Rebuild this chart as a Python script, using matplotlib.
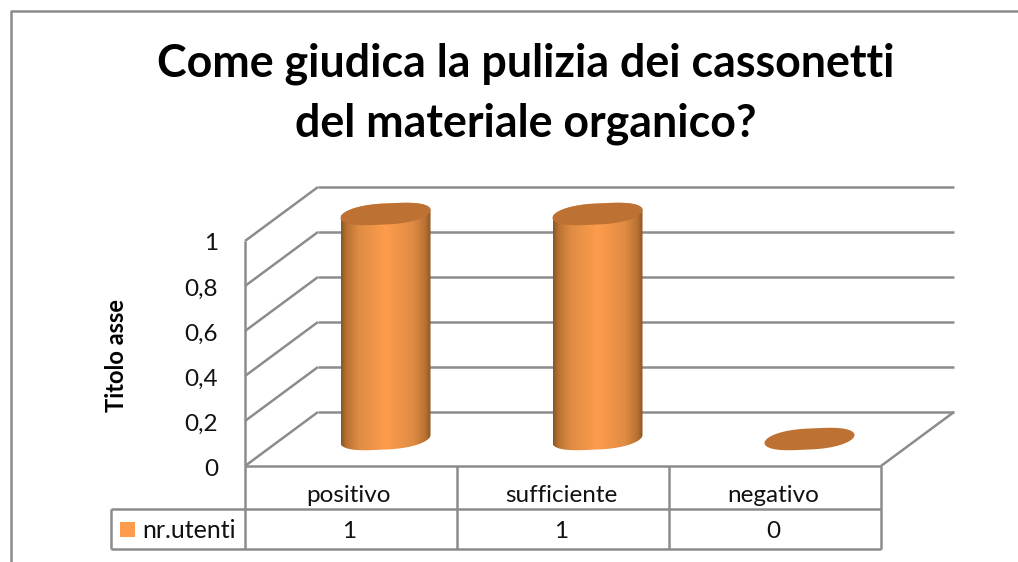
import numpy as np
import matplotlib
matplotlib.use('Agg')
import matplotlib.pyplot as plt
from matplotlib.colors import LinearSegmentedColormap
from matplotlib.patches import Polygon

plt.rcParams['font.family'] = ['Lato', 'DejaVu Sans']

title = 'Come giudica la pulizia dei cassonetti\ndel materiale organico?'
categories = ['positivo', 'sufficiente', 'negativo']
values = [1, 1, 0]
series_name = 'nr.utenti'
y_ticks = [0, 0.2, 0.4, 0.6, 0.8, 1]
y_tick_labels = ['0', '0,2', '0,4', '0,6', '0,8', '1']
y_title = 'Titolo asse'

W, H = 1018, 562
GRID = '#8c8c8c'
TEXT = '#111111'
# front plane of the 3d box, in pixels
LEFT, RIGHT, Y0, Y1 = 245, 881, 466, 241
PX = 212         # pixels per category
PY = Y0 - Y1     # pixels per unit of value

fig = plt.figure(figsize=(W / 100, H / 100), dpi=100)
ax = fig.add_axes([LEFT / W, 1 - Y0 / H, (RIGHT - LEFT) / W, (Y0 - Y1) / H])
ax.set_xlim(0, 3)
ax.set_ylim(0, 1)
ax.axis('off')

dx = 73 / PX     # depth of the box in data units
dy = 54 / PY


def line(xs, ys, lw=1.8, color=GRID):
    ax.plot(xs, ys, color=color, lw=lw, clip_on=False, solid_capstyle='butt', zorder=1)


# back wall gridlines, side wall and floor
for t in y_ticks:
    line([0, dx], [t, t + dy])
    line([dx, 3 + dx], [t + dy, t + dy])
line([3, 3 + dx], [0, dy])
line([0, 0], [0, 1])
line([0, 3], [0, 0])

# bars, cylinders with a slightly tilted cap
shade = LinearSegmentedColormap.from_list('cyl', [(0, '#8a5623'), (0.06, '#b87232'), (0.2, '#e08c44'),
                                                  (0.5, '#fd9c4c'), (0.8, '#e08c44'),
                                                  (0.94, '#b87232'), (1, '#8a5623')])
rx = 45 / PX
ry = 10.5 / PY
tilt = 4 / PY
t = np.linspace(0, 2 * np.pi, 120)
blunt = np.sign(np.cos(t)) * np.abs(np.cos(t)) ** 0.75   # caps have square-ish ends
for i, v in enumerate(values):
    cx = i + 0.5 + dx / 2 - 2 / PX
    cy = dy / 2
    ex = cx + rx * blunt
    ey = ry * np.sin(t) + tilt * np.cos(t)
    if v > 0:
        low = t >= np.pi
        top_half = t <= np.pi
        xs = np.r_[ex[low], ex[top_half]]
        ys = np.r_[cy + ey[low], cy + v + ey[top_half]]
        body = Polygon(np.column_stack([xs, ys]), closed=True, fc='none', ec='none')
        ax.add_patch(body)
        im = ax.imshow(np.linspace(0, 1, 256)[None, :], cmap=shade, aspect='auto', zorder=3,
                       extent=[cx - rx, cx + rx, cy - 2 * ry, cy + v + 2 * ry])
        im.set_clip_box(fig.bbox)
        im.set_clip_path(body)
    cap = Polygon(np.column_stack([ex, cy + v + ey]), closed=True, fc='#bd7233', ec='none',
                  zorder=4, clip_on=False)
    ax.add_patch(cap)
ax.set_xlim(0, 3)
ax.set_ylim(0, 1)

# data table under the plot
ROW1, ROW2 = -43 / PY, -83 / PY
LEG = -134 / PX
for x in [0, 1, 2, 3]:
    line([x, x], [ROW2, 0])
line([LEG, 3], [ROW1, ROW1])
line([LEG, 3], [ROW2, ROW2])
line([LEG, LEG], [ROW1, ROW2])

for i, (c, v) in enumerate(zip(categories, values)):
    ax.text(i + 0.49, ROW1 / 2 - 8 / PY, c, ha='center', va='center', fontsize=17.5, color=TEXT)
    ax.text(i + 0.49, (ROW1 + ROW2) / 2 - 3 / PY, str(v), ha='center', va='center', fontsize=17.5, color=TEXT)

fig.add_artist(plt.Rectangle((120 / W, 1 - 537 / H), 15 / W, 15 / H, transform=fig.transFigure,
                             fc='#fd9c4c', ec='none'))
fig.text(142 / W, 1 - 530 / H, series_name, ha='left', va='center', fontsize=18, color=TEXT)

for tick, lab in zip(y_ticks, y_tick_labels):
    ax.text(-27 / PX, tick - 3 / PY, lab, ha='right', va='center', fontsize=17.5, color=TEXT)

fig.text(117 / W, 1 - 355 / H, y_title, rotation=90, ha='center', va='center',
         fontsize=17, fontweight='bold', color='#000000')
fig.text(526 / W, 1 - 94 / H, title, ha='center', va='center', fontsize=32.2, fontweight='bold',
         color='#000000', linespacing=1.52)

# chart frame, only top and left are in the picture
fig.add_artist(plt.Line2D([11 / W, 11 / W, 1], [0, 1 - 10.7 / H, 1 - 10.7 / H], color=GRID, lw=1.8))

fig.savefig('out.png', dpi=100)
